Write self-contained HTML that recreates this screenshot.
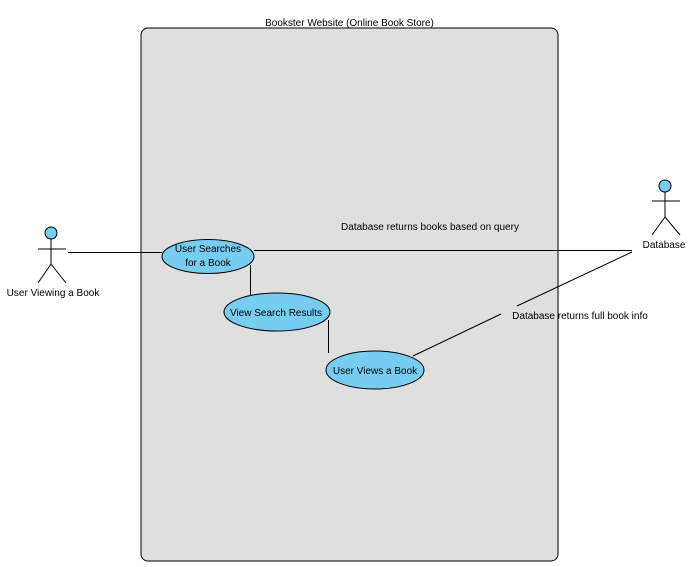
<!DOCTYPE html>
<html><head><meta charset="utf-8"><style>
html,body{margin:0;padding:0;background:#fff;}
svg{display:block;}
text{font-family:"Liberation Sans",Arial,sans-serif;font-size:10px;fill:#000;}
</style></head><body>
<svg width="695" height="567" viewBox="0 0 695 567" xmlns="http://www.w3.org/2000/svg">
<rect x="141" y="28" width="417" height="533" rx="7" ry="7" fill="#dfdfdf" stroke="#000" stroke-width="1"/>
<text x="349.5" y="26" text-anchor="middle">Bookster Website (Online Book Store)</text>

<!-- left actor -->
<g stroke="#000" stroke-width="1" fill="none">
<circle cx="51" cy="233" r="6" fill="#77cdf1"/>
<line x1="51" y1="239" x2="51" y2="264"/>
<line x1="38" y1="249" x2="66" y2="249"/>
<line x1="51" y1="264" x2="38" y2="283"/>
<line x1="51" y1="264" x2="66" y2="283"/>
</g>
<text x="53" y="296" text-anchor="middle">User Viewing a Book</text>

<!-- right actor -->
<g stroke="#000" stroke-width="1" fill="none">
<circle cx="665" cy="186" r="6" fill="#77cdf1"/>
<line x1="665" y1="192" x2="665" y2="217"/>
<line x1="652" y1="201" x2="680" y2="201"/>
<line x1="665" y1="217" x2="652" y2="235"/>
<line x1="665" y1="217" x2="680" y2="235"/>
</g>
<text x="664" y="248" text-anchor="middle">Database</text>

<!-- connectors -->
<g stroke="#000" stroke-width="1">
<line x1="68" y1="252.5" x2="162" y2="252.5"/>
<line x1="254" y1="250.5" x2="632" y2="250.5"/>
<line x1="250.5" y1="265" x2="250.5" y2="295"/>
<line x1="328.5" y1="320" x2="328.5" y2="353"/>
<line x1="632" y1="252" x2="517" y2="306"/>
<line x1="501" y1="314" x2="413" y2="356"/>
</g>
<text x="430" y="230" text-anchor="middle">Database returns books based on query</text>
<text x="580" y="319" text-anchor="middle">Database returns full book info</text>

<!-- use cases -->
<g stroke="#000" stroke-width="1" fill="#77cdf1">
<ellipse cx="208" cy="256.5" rx="46" ry="17"/>
<ellipse cx="277" cy="312" rx="53" ry="19"/>
<ellipse cx="375" cy="370" rx="49" ry="19"/>
</g>
<text x="208" y="252" text-anchor="middle">User Searches</text>
<text x="208" y="266" text-anchor="middle">for a Book</text>
<text x="276" y="316" text-anchor="middle">View Search Results</text>
<text x="375" y="374" text-anchor="middle">User Views a Book</text>
</svg>
</body></html>
